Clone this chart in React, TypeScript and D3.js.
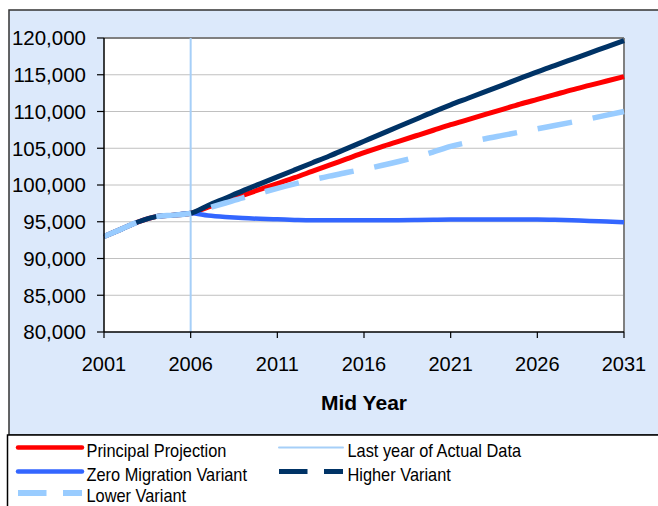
import React from "react";
import * as d3 from "d3";

const actualYears = [2001, 2002, 2003, 2004, 2005, 2006];
const actualValues = [93000, 94000, 95000, 95700, 95900, 96150];

const projYears = [2007, 2008, 2009, 2010, 2011, 2012, 2013, 2014, 2015, 2016, 2017, 2018, 2019, 2020, 2021, 2022, 2023, 2024, 2025, 2026, 2027, 2028, 2029, 2030, 2031];
const principal = [97000, 97800, 98600, 99400, 100200, 101000, 101850, 102700, 103550, 104400, 105200, 105950, 106700, 107450, 108200, 108900, 109600, 110300, 111000, 111650, 112300, 112950, 113550, 114150, 114750];
const zeroMigration = [95850, 95650, 95500, 95400, 95330, 95250, 95200, 95200, 95200, 95200, 95200, 95220, 95250, 95280, 95300, 95300, 95300, 95310, 95320, 95320, 95280, 95200, 95100, 95020, 94930];
const higher = [97200, 98200, 99200, 100150, 101100, 102050, 103000, 103950, 104950, 105950, 106950, 107950, 108950, 109950, 110900, 111800, 112700, 113600, 114500, 115400, 116250, 117100, 117950, 118800, 119650];
const lower = [96850, 97550, 98250, 98900, 99550, 100150, 100700, 101200, 101700, 102150, 102650, 103200, 103800, 104500, 105250, 105800, 106300, 106750, 107200, 107650, 108100, 108550, 109000, 109500, 110000];

const lastActualYear = 2006;
const yTicks = [80000, 85000, 90000, 95000, 100000, 105000, 110000, 115000, 120000];
const xTicks = [2001, 2006, 2011, 2016, 2021, 2026, 2031];
const xTitle = "Mid Year";

const legendItems = [
  { label: "Principal Projection", color: "#FF0000", dash: null, width: 4.5, col: 0, row: 0 },
  { label: "Last year of Actual Data", color: "#A6CFF8", dash: null, width: 2, col: 1, row: 0 },
  { label: "Zero Migration Variant", color: "#3366FF", dash: null, width: 4.5, col: 0, row: 1 },
  { label: "Higher Variant", color: "#003366", dash: "28.5 16.5", width: 5, col: 1, row: 1 },
  { label: "Lower Variant", color: "#99CCFF", dash: "28.5 16.5", width: 6, col: 0, row: 2 },
];

type Pt = { year: number; value: number };
const build = (vals: number[]): Pt[] =>
  actualYears.map((y, i) => ({ year: y, value: actualValues[i] })).concat(projYears.map((y, i) => ({ year: y, value: vals[i] })));

export default function App() {
  const W = 658, H = 506;
  const plot = { left: 104, right: 624, top: 38, bottom: 332 };
  const x = d3.scaleLinear().domain([2001, 2031]).range([plot.left, plot.right]);
  const y = d3.scaleLinear().domain([80000, 120000]).range([plot.bottom, plot.top]);
  const line = d3.line<Pt>().x((d) => x(d.year)).y((d) => y(d.value)).curve(d3.curveMonotoneX);
  const fmt = d3.format(",");
  const font = "'Liberation Sans', Arial, sans-serif";

  const series = [
    { data: build(principal), color: "#FF0000", width: 5, dash: undefined as string | undefined },
    { data: build(zeroMigration), color: "#3366FF", width: 4.5, dash: undefined },
    { data: build(higher), color: "#003366", width: 5, dash: undefined },
    { data: build(lower), color: "#99CCFF", width: 5.5, dash: "35 21" },
  ];

  const colX = [17, 278];
  const rowY = [447.5, 471.5, 493];

  return (
    <svg width={W} height={H} style={{ position: "absolute", left: 0, top: 0 }} fontFamily={font}>
      <rect x={0} y={0} width={W} height={H} fill="#ffffff" />
      <rect x={9} y={10} width={W + 10} height={425} fill="#DCE9FB" stroke="#333333" strokeWidth={1.5} />
      <rect x={plot.left} y={plot.top} width={plot.right - plot.left} height={plot.bottom - plot.top} fill="#ffffff" />
      {yTicks.slice(1, -1).map((t) => (
        <line key={"g" + t} x1={plot.left} x2={plot.right} y1={y(t)} y2={y(t)} stroke="#C0C0C0" strokeWidth={1} />
      ))}
      <line x1={plot.left} x2={plot.right} y1={plot.top} y2={plot.top} stroke="#808080" strokeWidth={2} />
      <line x1={plot.right} x2={plot.right} y1={plot.top} y2={plot.bottom} stroke="#808080" strokeWidth={2} />
      <line x1={x(lastActualYear)} x2={x(lastActualYear)} y1={plot.top} y2={plot.bottom} stroke="#A6CFF8" strokeWidth={2} />
      {series.map((s, i) => (
        <path key={i} d={line(s.data) || ""} fill="none" stroke={s.color} strokeWidth={s.width} strokeDasharray={s.dash} strokeLinejoin="round" />
      ))}
      <line x1={plot.left} x2={plot.left} y1={plot.top} y2={plot.bottom} stroke="#000" strokeWidth={1.5} />
      <line x1={plot.left} x2={plot.right} y1={plot.bottom} y2={plot.bottom} stroke="#000" strokeWidth={1.5} />
      {yTicks.map((t) => (
        <g key={"y" + t}>
          <line x1={plot.left - 7} x2={plot.left} y1={y(t)} y2={y(t)} stroke="#000" strokeWidth={1.2} />
          <text x={plot.left - 18} y={y(t)} dy="0.36em" textAnchor="end" fontSize={20.5} fill="#000">
            {fmt(t)}
          </text>
        </g>
      ))}
      {xTicks.map((t) => (
        <g key={"x" + t}>
          <line x1={x(t)} x2={x(t)} y1={plot.bottom} y2={plot.bottom + 6} stroke="#000" strokeWidth={1.2} />
          <text x={x(t)} y={370.5} textAnchor="middle" fontSize={20} fill="#000">
            {t}
          </text>
        </g>
      ))}
      <text x={(plot.left + plot.right) / 2} y={410} textAnchor="middle" fontSize={21} fontWeight="bold" fill="#000">
        {xTitle}
      </text>
      <rect x={7.5} y={435} width={W + 10} height={80} fill="#ffffff" stroke="#000" strokeWidth={1.5} />
      {legendItems.map((it) => {
        const lx = colX[it.col];
        const ly = rowY[it.row];
        return (
          <g key={it.label}>
            <line x1={lx + 1} x2={lx + 65} y1={ly} y2={ly} stroke={it.color} strokeWidth={it.width} strokeDasharray={it.dash || undefined} strokeLinecap={it.dash ? "butt" : "round"} />
            <text transform={`translate(${lx + 69.5},${ly + 9.4}) scale(0.87,1)`} fontSize={18.8} fill="#000">
              {it.label}
            </text>
          </g>
        );
      })}
    </svg>
  );
}
